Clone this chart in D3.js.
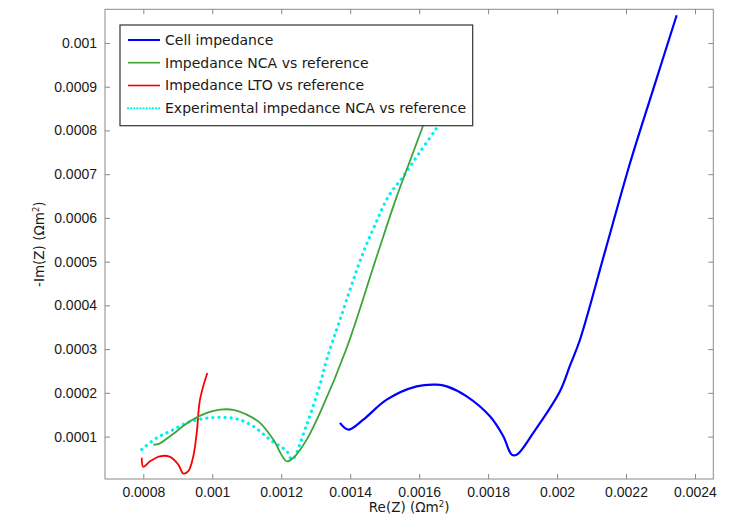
<!DOCTYPE html>
<html>
<head>
<meta charset="utf-8">
<script src="https://cdn.jsdelivr.net/npm/d3@7/dist/d3.min.js"></script>
<style>
  html, body { margin: 0; padding: 0; background: #fff; }
  svg { display: block; font-family: "DejaVu Sans", sans-serif; }
</style>
</head>
<body>
<svg id="chart" width="729" height="514"></svg>
<script>
// Nyquist plot: Re(Z) vs -Im(Z), both in Ohm·m²
const cellRe  = [0.0013704, 0.0013945, 0.001438, 0.0015059, 0.0015929, 0.0016509, 0.0016799, 0.0017379, 0.0018054, 0.001844, 0.0018684, 0.0018829, 0.001931, 0.0020084, 0.0020374, 0.0020664, 0.002139, 0.0022115, 0.0022781, 0.0023469];
const cellIm  = [0.0001313, 0.000116, 0.0001388, 0.0001845, 0.0002148, 0.0002187, 0.0002148, 0.000192, 0.0001463, 0.0001007, 0.0000589, 0.0000585, 0.0001084, 0.0002034, 0.0002621, 0.0003214, 0.000523, 0.0007249, 0.0008922, 0.0010634];

const ncaRe   = [0.000829, 0.000845, 0.0008776, 0.0009354, 0.0009839, 0.0010224, 0.001061, 0.0010999, 0.0011384, 0.001177, 0.0012159, 0.001235, 0.0012739, 0.0013124, 0.0013899, 0.0014769, 0.0015349, 0.001612, 0.0016459];
const ncaIm   = [0.0000817, 0.0000835, 0.0001007, 0.0001349, 0.0001541, 0.0001616, 0.0001612, 0.0001502, 0.0001313, 0.0000931, 0.0000436, 0.0000514, 0.0000931, 0.0001541, 0.0003025, 0.0005116, 0.0006486, 0.0008123, 0.000892];

const ltoRe   = [0.0007954, 0.0008, 0.0008194, 0.0008484, 0.0008774, 0.0009015, 0.000916, 0.0009305, 0.000945, 0.0009549, 0.0009644, 0.0009856];
const ltoIm   = [0.0000514, 0.0000308, 0.0000436, 0.000055, 0.0000537, 0.0000361, 0.0000155, 0.0000208, 0.000055, 0.0001084, 0.0001845, 0.0002454];

const expRe   = [0.0007954, 0.0008389, 0.0008774, 0.0009259, 0.000974, 0.0010224, 0.0010709, 0.001119, 0.0011674, 0.0012159, 0.0012313, 0.0012739, 0.0013124, 0.0013319, 0.0013704, 0.0014334, 0.001472, 0.0015105, 0.0015531, 0.0016024, 0.0016509];
const expIm   = [0.0000703, 0.000097, 0.0001121, 0.0001313, 0.0001411, 0.000144, 0.0001404, 0.0001235, 0.0000931, 0.0000664, 0.0000475, 0.0001274, 0.0002187, 0.0002758, 0.0003671, 0.0005116, 0.000584, 0.0006486, 0.0006943, 0.0007507, 0.0008054];

const xTicks = [0.0008, 0.001, 0.0012, 0.0014, 0.0016, 0.0018, 0.002, 0.0022, 0.0024];
const xTickLabels = ["0.0008", "0.001", "0.0012", "0.0014", "0.0016", "0.0018", "0.002", "0.0022", "0.0024"];
const yTicks = [0.0001, 0.0002, 0.0003, 0.0004, 0.0005, 0.0006, 0.0007, 0.0008, 0.0009, 0.001];
const yTickLabels = ["0.0001", "0.0002", "0.0003", "0.0004", "0.0005", "0.0006", "0.0007", "0.0008", "0.0009", "0.001"];

const seriesNames = ["Cell impedance", "Impedance NCA vs reference", "Impedance LTO vs reference", "Experimental impedance NCA vs reference"];

const svg = d3.select("#chart");
const pLeft = 105, pRight = 713.3, pTop = 9.3, pBottom = 479;

const x = d3.scaleLinear().domain([0.000688923, 0.0024531]).range([pLeft, pRight]);
const y = d3.scaleLinear().domain([0.000003, 0.001077]).range([pBottom, pTop]);

const series = [
  { re: cellRe, im: cellIm, color: "#0000ff", width: 2.2, dash: null },
  { re: ncaRe,  im: ncaIm,  color: "#3aa63a", width: 1.8, dash: null },
  { re: ltoRe,  im: ltoIm,  color: "#ff0000", width: 1.8, dash: null },
  { re: expRe,  im: expIm,  color: "#00f0f0", width: 3.2, dash: "0.1 6" }
];

const plot = svg.append("g");
plot.append("clipPath").attr("id", "clip").append("rect")
  .attr("x", pLeft).attr("y", pTop).attr("width", pRight - pLeft).attr("height", pBottom - pTop);

const line = d3.line().x(d => x(d[0])).y(d => y(d[1])).curve(d3.curveCatmullRom.alpha(0.5));

// draw in reverse so the cell curve sits on top
series.slice().reverse().forEach(s => {
  plot.append("path")
    .datum(s.re.map((v, i) => [v, s.im[i]]))
    .attr("clip-path", "url(#clip)")
    .attr("fill", "none")
    .attr("stroke", s.color)
    .attr("stroke-width", s.width)
    .attr("stroke-linecap", s.dash ? "round" : "butt")
    .attr("stroke-linejoin", "round")
    .attr("stroke-dasharray", s.dash)
    .attr("d", line);
});

// axes with inward ticks on all four sides
const tickLen = 5;
const fontSize = 14;
const axisStyle = g => {
  g.select(".domain").remove();
  g.selectAll(".tick line").attr("stroke", "#8a8a8a");
  g.selectAll(".tick text").attr("fill", "#1a1a1a").attr("font-size", fontSize);
};
svg.append("g").attr("transform", `translate(0,${pBottom})`)
  .call(d3.axisBottom(x).tickValues(xTicks).tickSizeInner(-tickLen).tickSizeOuter(0)
    .tickPadding(8).tickFormat((d, i) => xTickLabels[i]))
  .call(axisStyle);
svg.append("g").attr("transform", `translate(0,${pTop})`)
  .call(d3.axisTop(x).tickValues(xTicks).tickSizeInner(-tickLen).tickSizeOuter(0).tickFormat(""))
  .call(axisStyle);
svg.append("g").attr("transform", `translate(${pLeft},0)`)
  .call(d3.axisLeft(y).tickValues(yTicks).tickSizeInner(-tickLen).tickSizeOuter(0)
    .tickPadding(8).tickFormat((d, i) => yTickLabels[i]))
  .call(axisStyle);
svg.append("g").attr("transform", `translate(${pRight},0)`)
  .call(d3.axisRight(y).tickValues(yTicks).tickSizeInner(-tickLen).tickSizeOuter(0).tickFormat(""))
  .call(axisStyle);

svg.append("rect")
  .attr("x", pLeft).attr("y", pTop).attr("width", pRight - pLeft).attr("height", pBottom - pTop)
  .attr("fill", "none").attr("stroke", "#8a8a8a").attr("stroke-width", 1);

// axis titles
const xt = svg.append("text").attr("x", (pLeft + pRight) / 2).attr("y", 512)
  .attr("text-anchor", "middle").attr("font-size", 13.5).attr("fill", "#1a1a1a");
xt.append("tspan").text("Re(Z) (\u03A9m");
xt.append("tspan").attr("font-size", 8.5).attr("dy", -5).text("2");
xt.append("tspan").attr("dy", 5).text(")");

const yt = svg.append("text").attr("transform", `translate(44,${(pTop + pBottom) / 2}) rotate(-90)`)
  .attr("text-anchor", "middle").attr("font-size", 13.5).attr("fill", "#1a1a1a");
yt.append("tspan").text("-Im(Z) (\u03A9m");
yt.append("tspan").attr("font-size", 8.5).attr("dy", -5).text("2");
yt.append("tspan").attr("dy", 5).text(")");

// legend
const lg = svg.append("g");
lg.append("rect").attr("x", 120).attr("y", 25).attr("width", 352.7).attr("height", 100.7)
  .attr("fill", "#fff").attr("stroke", "#333").attr("stroke-width", 1.2);
const rowY = [40, 62.7, 85.5, 108.3];
series.forEach((s, i) => {
  lg.append("line").attr("x1", 128).attr("x2", 160).attr("y1", rowY[i]).attr("y2", rowY[i])
    .attr("stroke", s.color)
    .attr("stroke-width", s.dash ? 2.2 : s.width * 0.9)
    .attr("stroke-linecap", s.dash ? "round" : "butt")
    .attr("stroke-dasharray", s.dash ? "0.1 3" : null);
  lg.append("text").attr("x", 165).attr("y", rowY[i]).attr("dy", "0.35em")
    .attr("font-size", fontSize).attr("fill", "#1a1a1a").text(seriesNames[i]);
});
</script>
</body>
</html>
